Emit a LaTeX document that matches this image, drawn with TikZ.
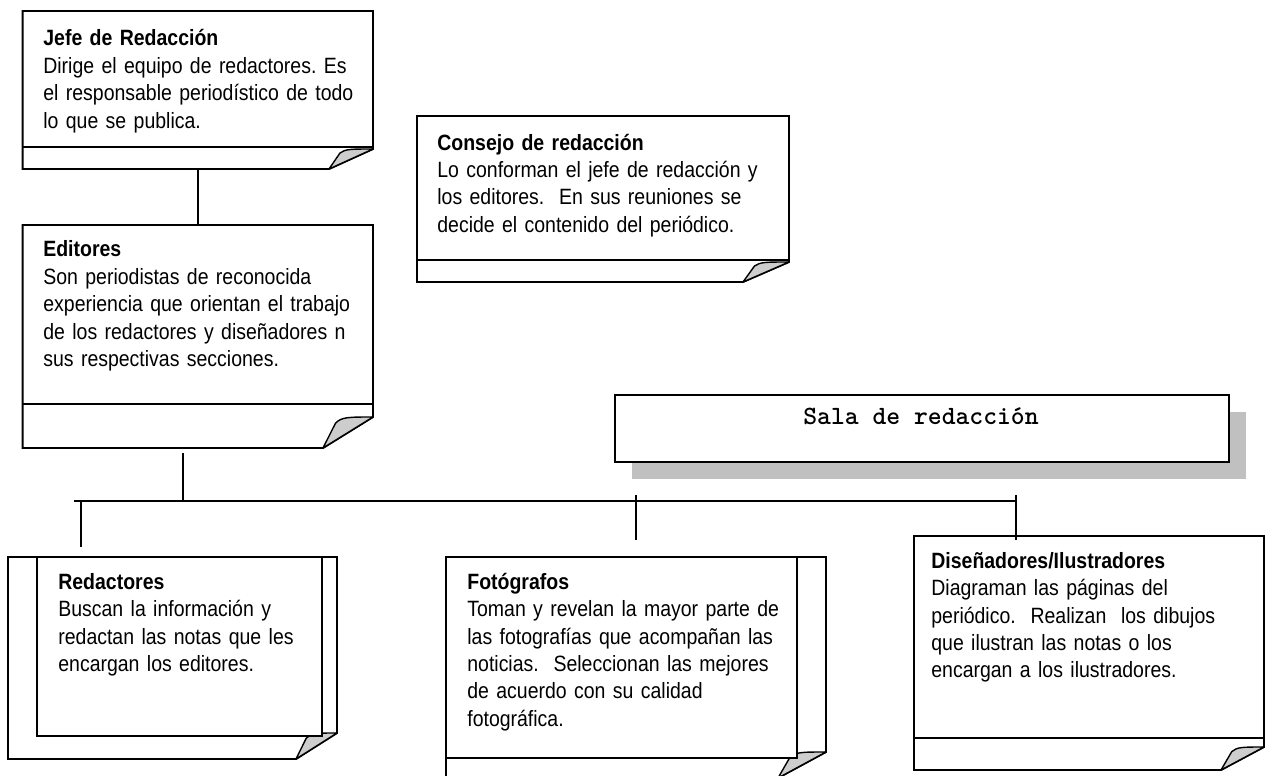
\documentclass[tikz,border=0pt]{standalone}
\usepackage{fontspec}
\setmainfont[FakeStretch=0.88]{Liberation Sans}
\usetikzlibrary{fit,shadows}
\frenchspacing

\definecolor{sombra}{RGB}{192,192,192}
\definecolor{pliegue}{RGB}{205,205,205}

% hoja con esquina doblada: nombre, izq, arriba, der, linea, abajo, ancho y alto del doblez
\newcommand{\hoja}[8]{%
  \node[fit={(#2,#3) (#4,#6)}, inner sep=0pt] (#1) {};
  \draw[borde, fill=white] (#2,#3) -- (#4,#3) -- (#4,#6-#8) -- (#4-#7,#6) -- (#2,#6) -- cycle;
  \draw[borde] (#2,#5) -- (#4,#5);
  \filldraw[doblez] (#4-#7,#6) -- ++(0.25*#7,-0.8*#8)
    .. controls +(0.12*#7,-0.2*#8) and +(-0.5*#7,0) .. (#4,#6-#8) -- cycle;
}

\tikzset{
  borde/.style={line width=1.1pt},
  doblez/.style={fill=pliegue, draw=black, line width=0.8pt, line join=round},
  texto/.style={anchor=base west, inner sep=0pt, align=left, text width=7.5cm,
    font=\fontsize{12.6}{15.65}\selectfont},
  sala/.style={draw, line width=1.1pt, fill=white, inner sep=0pt, anchor=north west,
    minimum width=12.28cm, minimum height=1.34cm,
    drop shadow={shadow xshift=0.34cm, shadow yshift=-0.34cm, fill=sombra, opacity=1}},
}

\begin{document}
\begin{tikzpicture}[x=0.02cm, y=-0.02cm]
  \useasboundingbox (0,0) rectangle (1265,775);
  \clip (0,0) rectangle (1265,775);

  % titulo
  \node[sala] (sala) at (614,394) {};
  \node[anchor=base, inner sep=0pt, font=\ttfamily\bfseries\fontsize{15}{18}\selectfont]
    (salaT) at (921,424) {Sala de redacción};

  % hojas de arriba
  \hoja{jefe}{22.7}{11}{373}{147}{169}{44}{20}
  \node[texto] (jefeT) at (43,45.7) {\textbf{Jefe de Redacción}\\Dirige el equipo de redactores. Es\\el responsable periodístico de todo\\lo que se publica.};

  \hoja{consejo}{417}{116}{789}{260}{282}{46}{20}
  \node[texto] (consejoT) at (437,150) {\textbf{Consejo de redacción}\\Lo conforman el jefe de redacción y\\los editores.~ En sus reuniones se\\decide el contenido del periódico.};

  \hoja{editores}{22.7}{225}{373}{404}{448}{50}{31}
  \node[texto] (editoresT) at (43,256.7) {\textbf{Editores}\\Son periodistas de reconocida\\experiencia que orientan el trabajo\\de los redactores y diseñadores n\\sus respectivas secciones.};

  % hojas de abajo
  \hoja{redactores}{8}{557}{337}{557}{759}{41}{26}
  \draw[borde, fill=white] (37,557) rectangle (322,736);
  \node[texto] (redactoresT) at (58,589) {\textbf{Redactores}\\Buscan la información y\\redactan las notas que les\\encargan los editores.};

  \hoja{fotografos}{446}{557}{826}{557}{778}{48}{26}
  \draw[borde, fill=white] (446,557) rectangle (797,758);
  \node[texto] (fotografosT) at (467,589) {\textbf{Fotógrafos}\\Toman y revelan la mayor parte de\\las fotografías que acompañan las\\noticias.~ Seleccionan las mejores\\de acuerdo con su calidad\\fotográfica.};

  \hoja{disenadores}{914}{536}{1264}{738}{770}{43}{23}
  \node[texto] (disenadoresT) at (931,568) {\textbf{Diseñadores/Ilustradores}\\Diagraman las páginas del\\periódico.~ Realizan~ los dibujos\\que ilustran las notas o los\\encargan a los ilustradores.};

  % lineas
  \coordinate (e-baja) at (183,453);
  \coordinate (e-bus) at (183,501);
  \coordinate (busL) at (74,501);
  \coordinate (busR) at (1016,501);
  \coordinate (r-arr) at (81,501);
  \coordinate (r-ab) at (81,547);
  \coordinate (f-arr) at (636,495);
  \coordinate (f-ab) at (636,540);
  \coordinate (d-arr) at (1016,495);
  \coordinate (d-ab) at (1016,540);

  \draw[borde] (jefe.south) -- (editores.north);
  \draw[borde] (e-baja) -- (e-bus);
  \draw[borde] (busL) -- (busR);
  \foreach \n in {r,f,d}
    \draw[borde] (\n-arr) -- (\n-ab);
\end{tikzpicture}
\end{document}
